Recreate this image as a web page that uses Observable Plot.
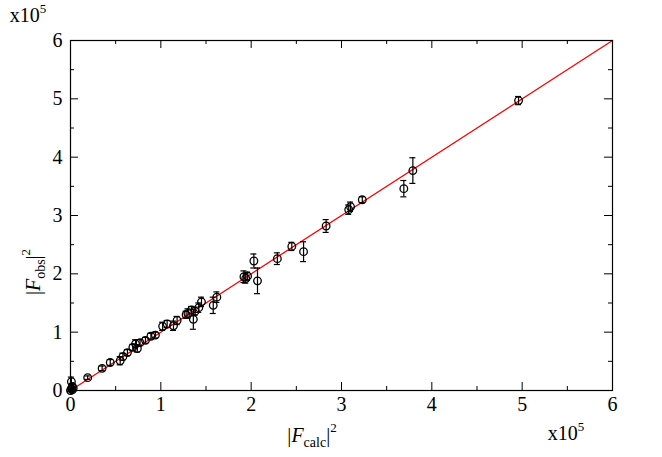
<!DOCTYPE html>
<html>
<head>
<meta charset="utf-8">
<script src="https://cdn.jsdelivr.net/npm/d3@7"></script>
<script src="https://cdn.jsdelivr.net/npm/@observablehq/plot@0.6"></script>
<style>
  body { margin: 0; background: #fff; }
  #chart svg { font-family: "Liberation Serif", "DejaVu Serif", serif; }
</style>
</head>
<body>
<div id="chart"></div>
<script>
// values in units of 1e5
const fCalc = [4.96, 3.79, 3.69, 3.23, 3.10, 3.08, 2.83, 2.45, 2.58, 2.29, 2.03, 2.07, 1.92, 1.96, 1.94,
  1.62, 1.58, 1.45, 1.36, 1.30, 1.34, 1.38, 1.42, 1.28, 1.18, 1.14, 1.07, 1.02, 0.94, 0.89, 0.83,
  0.77, 0.72, 0.74, 0.69, 0.63, 0.58, 0.55, 0.44, 0.35, 0.19, 0.01, 0.02, 0.01, 0.02, 0.0, 0.03];
const fObs = [4.97, 3.77, 3.46, 3.27, 3.15, 3.10, 2.82, 2.47, 2.38, 2.26, 2.22, 1.88, 1.95, 1.96, 1.92,
  1.60, 1.46, 1.52, 1.22, 1.32, 1.38, 1.36, 1.42, 1.30, 1.20, 1.11, 1.14, 1.10, 0.95, 0.93, 0.86,
  0.82, 0.80, 0.72, 0.74, 0.65, 0.58, 0.51, 0.48, 0.38, 0.22, 0.15, 0.07, 0.03, 0.01, 0.0, 0.04];
const fErr = [0.07, 0.22, 0.14, 0.05, 0.08, 0.08, 0.11, 0.07, 0.17, 0.10, 0.12, 0.22, 0.10, 0.07, 0.08,
  0.09, 0.14, 0.08, 0.17, 0.08, 0.06, 0.07, 0.08, 0.06, 0.07, 0.08, 0.06, 0.07, 0.05, 0.05, 0.05,
  0.05, 0.07, 0.06, 0.05, 0.05, 0.06, 0.07, 0.05, 0.04, 0.03, 0.08, 0.05, 0.03, 0.02, 0.02, 0.02];
const majorTicks = [0, 1, 2, 3, 4, 5, 6];
const minorTicks = [0.5, 1.5, 2.5, 3.5, 4.5, 5.5];
const fitLine = [0, 6];

const pts = fCalc.map((x, i) => ({ x, y: fObs[i], e: fErr[i] }));
const kx = 6 / 542, ky = 6 / 350; // data units per pixel

const plot = Plot.plot({
  width: 662,
  height: 457,
  marginLeft: 70,
  marginRight: 50,
  marginTop: 40,
  marginBottom: 67,
  x: { domain: [0, 6], label: null },
  y: { domain: [0, 6], label: null },
  style: { fontFamily: '"Liberation Serif", serif', color: "#000", overflow: "visible" },
  marks: [
    Plot.axisX({ ticks: majorTicks, tickFormat: "d", tickSize: 0, tickPadding: 6, fontSize: 20, label: null }),
    Plot.axisY({ ticks: majorTicks, tickFormat: "d", tickSize: 0, tickPadding: 8, fontSize: 20, label: null }),
    // inward ticks, all four sides
    Plot.ruleX(majorTicks, { x: d => d, y1: 0, y2: 8 * ky, stroke: "#000" }),
    Plot.ruleX(majorTicks, { x: d => d, y1: 6, y2: 6 - 8 * ky, stroke: "#000" }),
    Plot.ruleX(minorTicks, { x: d => d, y1: 0, y2: 4 * ky, stroke: "#000" }),
    Plot.ruleX(minorTicks, { x: d => d, y1: 6, y2: 6 - 4 * ky, stroke: "#000" }),
    Plot.ruleY(majorTicks, { y: d => d, x1: 0, x2: 8 * kx, stroke: "#000" }),
    Plot.ruleY(majorTicks, { y: d => d, x1: 6, x2: 6 - 8 * kx, stroke: "#000" }),
    Plot.ruleY(minorTicks, { y: d => d, x1: 0, x2: 4 * kx, stroke: "#000" }),
    Plot.ruleY(minorTicks, { y: d => d, x1: 6, x2: 6 - 4 * kx, stroke: "#000" }),
    Plot.line(fitLine, { x: d => d, y: d => d, stroke: "#ff0000", strokeWidth: 1.3 }),
    Plot.ruleX(pts, { x: "x", y1: d => d.y - d.e, y2: d => d.y + d.e, stroke: "#000", strokeWidth: 1.2 }),
    Plot.ruleY(pts, { y: d => d.y - d.e, x1: d => d.x - 3 * kx, x2: d => d.x + 3 * kx, stroke: "#000", strokeWidth: 1.2 }),
    Plot.ruleY(pts, { y: d => d.y + d.e, x1: d => d.x - 3 * kx, x2: d => d.x + 3 * kx, stroke: "#000", strokeWidth: 1.2 }),
    Plot.dot(pts, { x: "x", y: "y", r: 3.8, stroke: "#000", fill: "none", strokeWidth: 1.3 }),
    Plot.frame({ stroke: "#000", strokeWidth: 1.2 })
  ]
});

const svg = d3.select(plot);
// parts: [text, dy, fontSize, italic]
function label(x, y, parts, rotate) {
  const t = svg.append("text").attr("fill", "#000")
    .attr("font-family", '"Liberation Serif", serif')
    .attr("transform", `translate(${x},${y})` + (rotate ? " rotate(-90)" : ""));
  parts.forEach(([s, dy, fs, it]) => {
    t.append("tspan").text(s).attr("dy", dy).attr("font-size", fs).attr("fill", "#000")
      .attr("font-style", it ? "italic" : "normal");
  });
}
label(28, 22, [["x10", 0, 20], ["5", -9, 13]]);
label(566, 440, [["x10", 0, 20], ["5", -9, 13]]);
label(312, 442, [["|", 0, 20], ["F", 0, 20, true], ["calc", 5, 14], ["|", -5, 20], ["2", -10, 13]]);
label(40, 272, [["|", 0, 20], ["F", 0, 20, true], ["obs", 5, 14], ["|", -5, 20], ["2", -10, 13]], true);

document.getElementById("chart").append(plot);
</script>
</body>
</html>
